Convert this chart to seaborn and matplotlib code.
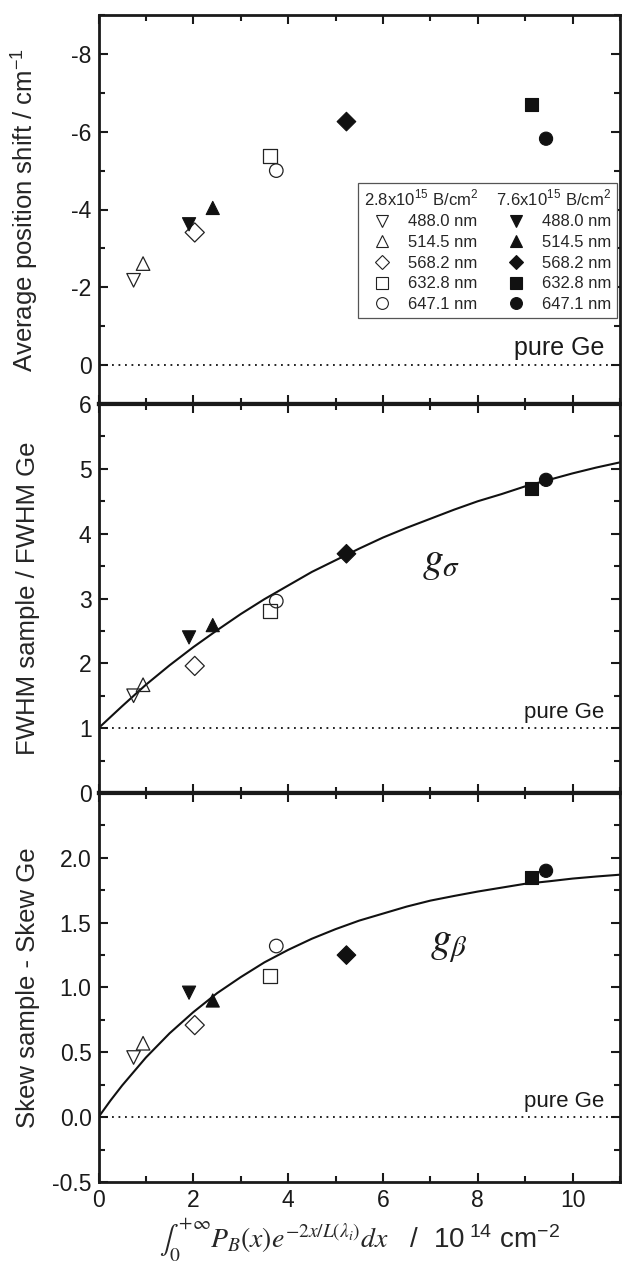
import numpy as np
import pandas as pd
import matplotlib
matplotlib.use("Agg")
import matplotlib.pyplot as plt
import seaborn as sns
from matplotlib.ticker import MultipleLocator, FormatStrFormatter, FixedLocator
from matplotlib.lines import Line2D

# ------------------------------------------------------------------ data
wavelengths = ["488.0 nm", "514.5 nm", "568.2 nm", "632.8 nm", "647.1 nm"]
marker_shapes = ["v", "^", "D", "s", "o"]
dose_labels = ["2.8x10$^{\\mathregular{15}}$ B/cm$^{\\mathregular{2}}$",
               "7.6x10$^{\\mathregular{15}}$ B/cm$^{\\mathregular{2}}$"]

# x: integral of boron profile weighted by probe depth (10^14 cm^-2)
x_low = [0.74, 0.94, 2.03, 3.62, 3.75]
x_high = [1.91, 2.41, 5.23, 9.14, 9.44]

# panel 1: average position shift (cm^-1)
shift_low = [-2.18, -2.61, -3.41, -5.38, -5.00]
shift_high = [-3.62, -4.04, -6.26, -6.69, -5.82]

# panel 2: FWHM ratio
fwhm_low = [1.50, 1.67, 1.96, 2.81, 2.96]
fwhm_high = [2.40, 2.59, 3.69, 4.70, 4.83]

# panel 3: skew difference
skew_low = [0.46, 0.57, 0.71, 1.09, 1.32]
skew_high = [0.96, 0.90, 1.25, 1.85, 1.90]

# fitted curves
fwhm_curve_x = [0, 0.5, 1, 1.5, 2, 2.5, 3, 3.5, 4, 4.5, 5, 5.5, 6, 6.5, 7, 7.5,
                8, 8.5, 9, 9.5, 10, 10.5, 11]
fwhm_curve_y = [1.00, 1.34, 1.67, 1.97, 2.25, 2.51, 2.76, 2.99, 3.20, 3.41, 3.59,
                3.77, 3.94, 4.09, 4.23, 4.37, 4.50, 4.61, 4.73, 4.83, 4.93, 5.02, 5.10]
skew_curve_x = [0, 0.25, 0.5, 1, 1.5, 2, 2.5, 3, 3.5, 4, 4.5, 5, 5.5, 6, 6.5, 7,
                7.5, 8, 8.5, 9, 9.5, 10, 10.5, 11]
skew_curve_y = [0.00, 0.127, 0.245, 0.46, 0.647, 0.81, 0.956, 1.08, 1.194, 1.29,
                1.376, 1.45, 1.516, 1.57, 1.624, 1.67, 1.706, 1.74, 1.770, 1.80,
                1.819, 1.84, 1.856, 1.87]

pure_ge = [0.0, 1.0, 0.0]
ylabels = ["Average position shift / cm$^{\\mathregular{-1}}$",
           "FWHM sample / FWHM Ge",
           "Skew sample - Skew Ge"]
xlabel = ("$\\int_0^{+\\infty}P_B(x)e^{-2x/L(\\lambda_i)}dx$   /  "
          "10$^{\\mathregular{\\ 14}}$ cm$^{\\mathregular{-2}}$")

# ------------------------------------------------------------------ style
sns.set_theme(style="ticks")
plt.rcParams["font.family"] = ["Liberation Sans", "DejaVu Sans"]
plt.rcParams["mathtext.fontset"] = "stix"
plt.rcParams["axes.unicode_minus"] = False
plt.rcParams["axes.edgecolor"] = "#1a1a1a"

W, H = 622, 1266
fig = plt.figure(figsize=(W / 100, H / 100), dpi=100)
left_px, right_px = 98.5, 620.0
edges = [15, 404, 793, 1182]
axes = []
for i in range(3):
    top, bot = edges[i], edges[i + 1]
    ax = fig.add_axes([left_px / W, 1 - bot / H, (right_px - left_px) / W, (bot - top) / H])
    axes.append(ax)
ax1, ax2, ax3 = axes

mk = dict(zip(wavelengths, marker_shapes))

def make_df(xl, yl, xh, yh):
    return pd.DataFrame({
        "x": xl + xh,
        "y": yl + yh,
        "wl": wavelengths + wavelengths,
        "dose": ["low"] * 5 + ["high"] * 5,
    })

panels = [
    (ax1, make_df(x_low, shift_low, x_high, shift_high)),
    (ax2, make_df(x_low, fwhm_low, x_high, fwhm_high)),
    (ax3, make_df(x_low, skew_low, x_high, skew_high)),
]

sns.lineplot(x=fwhm_curve_x, y=fwhm_curve_y, ax=ax2, color="#111111", lw=1.5, zorder=2)
sns.lineplot(x=skew_curve_x, y=skew_curve_y, ax=ax3, color="#111111", lw=1.5, zorder=2)

for (ax, df), ref in zip(panels, pure_ge):
    ax.axhline(ref, color="#111111", lw=1.3, ls=(0, (1, 2.6)), zorder=1)
    lo = df[df["dose"] == "low"]
    hi = df[df["dose"] == "high"]
    sns.scatterplot(data=lo, x="x", y="y", style="wl", markers=mk, style_order=wavelengths,
                    s=95, facecolors="none", edgecolor="#222222", linewidth=0.9,
                    legend=False, ax=ax, zorder=3)
    sns.scatterplot(data=hi, x="x", y="y", style="wl", markers=mk, style_order=wavelengths,
                    s=90, color="#111111", edgecolor="#111111", linewidth=0.8,
                    legend=False, ax=ax, zorder=3)
    ax.set_xlim(0, 11)
    ax.xaxis.set_major_locator(MultipleLocator(2))
    ax.xaxis.set_minor_locator(MultipleLocator(1))
    ax.tick_params(which="both", direction="in", top=True, right=True,
                   width=1.5, colors="#1a1a1a", labelsize=16.5, pad=5)
    ax.tick_params(which="major", length=6.5)
    ax.tick_params(which="minor", length=4.5)
    for sp in ax.spines.values():
        sp.set_linewidth(2.0)
    ax.set_xlabel("")
    ax.set_ylabel("")

# panel-specific scales
ax1.set_ylim(1, -9)
ax1.yaxis.set_major_locator(MultipleLocator(2))
ax1.yaxis.set_minor_locator(MultipleLocator(1))
ax2.set_ylim(0, 6)
ax2.yaxis.set_major_locator(MultipleLocator(1))
ax2.yaxis.set_minor_locator(MultipleLocator(0.5))
ax3.set_ylim(-0.5, 2.5)
ax3.yaxis.set_major_locator(FixedLocator([-0.5, 0.0, 0.5, 1.0, 1.5, 2.0]))
ax3.yaxis.set_minor_locator(MultipleLocator(0.25))
ax3.yaxis.set_major_formatter(FormatStrFormatter("%.1f"))

for ax in (ax1, ax2):
    ax.tick_params(axis="x", labelbottom=False)
ax1.spines["bottom"].set_linewidth(3.0)
ax2.spines["top"].set_linewidth(3.0)
ax2.spines["bottom"].set_linewidth(3.0)
ax3.spines["top"].set_linewidth(3.0)

# axis labels
for ax, lab in zip(axes, ylabels):
    ax.set_ylabel(lab, fontsize=18.5)
    ax.yaxis.set_label_coords(-0.112, 0.5)
ax3.set_xlabel(xlabel, fontsize=20)
ax3.xaxis.set_label_coords(0.5, -0.088)
ax3.xaxis.label.set_va("top")

# "pure Ge" labels
for ax, ref, fs in zip(axes, pure_ge, [18, 16, 16]):
    ax.annotate("pure Ge", xy=(10.66, ref), xytext=(0, 7), textcoords="offset points",
                ha="right", va="baseline", fontsize=fs, color="#1a1a1a")

ax2.text(7.23, 3.57, "$g_{\\sigma}$", fontsize=30, ha="center", va="center", color="#1a1a1a")
ax3.text(7.39, 1.33, "$g_{\\beta}$", fontsize=30, ha="center", va="center", color="#1a1a1a")

# legend
handles, labels = [], []
for col, (fc, ec) in enumerate([("none", "#222222"), ("#111111", "#111111")]):
    for m, wl in zip(marker_shapes, wavelengths):
        handles.append(Line2D([], [], ls="none", marker=m, markersize=8.5 if m != "D" else 7.5,
                              markerfacecolor=fc, markeredgecolor=ec, markeredgewidth=0.8))
        labels.append(wl)
leg = ax1.legend(handles, labels, ncol=2, loc="upper right", bbox_to_anchor=(0.995, 1 - (183 - 15) / 389),
                 borderaxespad=0, frameon=True, fancybox=False, framealpha=1,
                 edgecolor="#555555", fontsize=12, title=dose_labels[0] + "    " + dose_labels[1],
                 title_fontsize=12, alignment="left", handlelength=2.2, handletextpad=0.45,
                 columnspacing=1.25, labelspacing=0.34, borderpad=0.35)
leg.get_frame().set_linewidth(0.9)

fig.savefig("out.png", dpi=100)
